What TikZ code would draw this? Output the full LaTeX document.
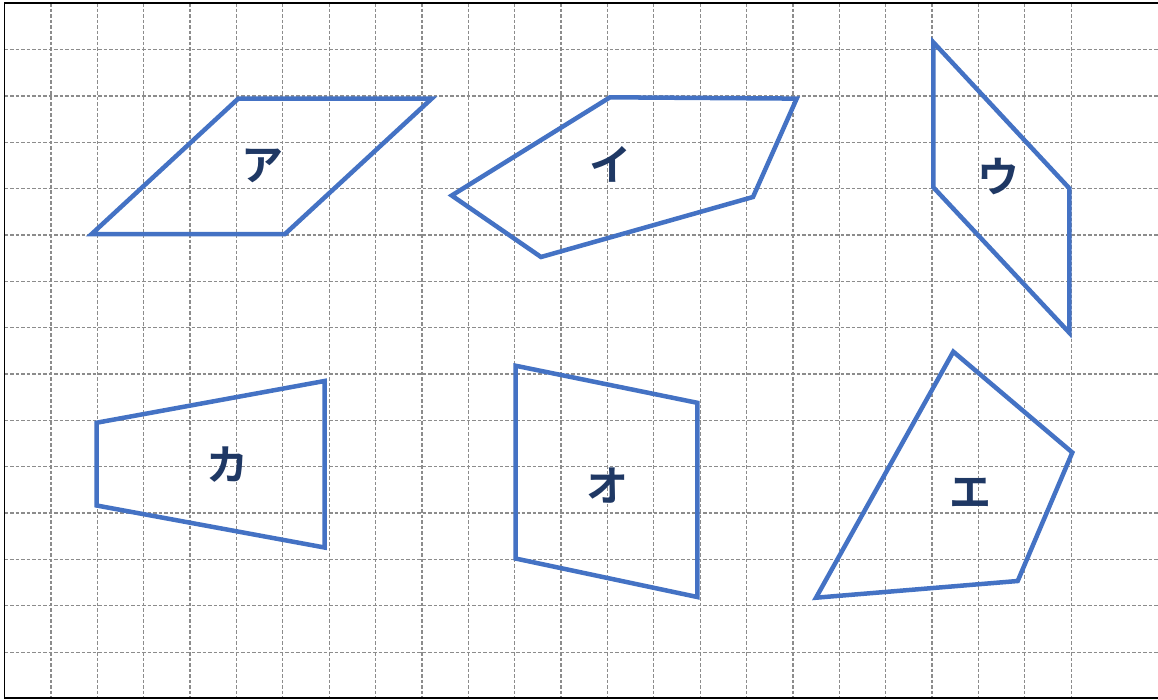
\documentclass[tikz,border=0pt]{standalone}
\usepackage{fontspec}
\newfontfamily\jpfont{Noto Sans CJK JP Bold}
\definecolor{shapeblue}{HTML}{4472C4}
\definecolor{labelnavy}{HTML}{1F3864}
\definecolor{gridgray}{HTML}{8C8C8C}
\begin{document}
\begin{tikzpicture}[x=1pt,y=-1pt,
  gridline/.style={draw=gridgray,line width=1.2pt,dash pattern=on 3.5pt off 2pt},
  frameline/.style={draw=black,line width=1.6pt},
  figure/.style={draw=shapeblue,line width=4.5pt,line join=miter},
  lbl/.style={text=labelnavy,font=\jpfont\fontsize{42}{42}\selectfont,inner sep=0pt}]
\useasboundingbox (0,0) rectangle (1158,699);
\fill[white] (0,0) rectangle (1158,699);
% grid
\foreach \k in {1,...,23}{
  \pgfmathsetmacro\xx{4.6+46.37*\k}
  \draw[gridline] (\xx,3) -- (\xx,698);
}
\foreach \k in {1,...,14}{
  \pgfmathsetmacro\yy{3.2+46.35*\k}
  \draw[gridline] (4.6,\yy) -- (1158,\yy);
}
% frame
\draw[frameline] (1162,3) -- (4.6,3) -- (4.6,697.8) -- (1162,697.8);
% shapes
\draw[figure] (238.3,98.6) -- (431.7,98.6) -- (285,234) -- (91.7,234) -- cycle;
\draw[figure] (610,97.3) -- (796.7,98.6) -- (753,197) -- (541,257) -- (451.7,195.5) -- cycle;
\draw[figure] (933.3,42.3) -- (1069.3,188.3) -- (1069.3,332.7) -- (933.3,187.3) -- cycle;
\draw[figure] (96.7,422.7) -- (324.5,381) -- (324.5,547.5) -- (96.7,505.5) -- cycle;
\draw[figure] (515.5,365.7) -- (697.3,402.8) -- (697.3,597) -- (515.5,558.5) -- cycle;
\draw[figure] (953.3,351.7) -- (1072.3,452.5) -- (1017.7,581) -- (816,597.7) -- cycle;
% labels
\node[lbl] (a) at (262,166) {ア};
\node[lbl] (i) at (610,164) {イ};
\node[lbl] (u) at (998,177) {ウ};
\node[lbl] (ka) at (227,465) {カ};
\node[lbl] (o) at (607,486) {オ};
\node[lbl] (e) at (970,493) {エ};
\end{tikzpicture}
\end{document}
